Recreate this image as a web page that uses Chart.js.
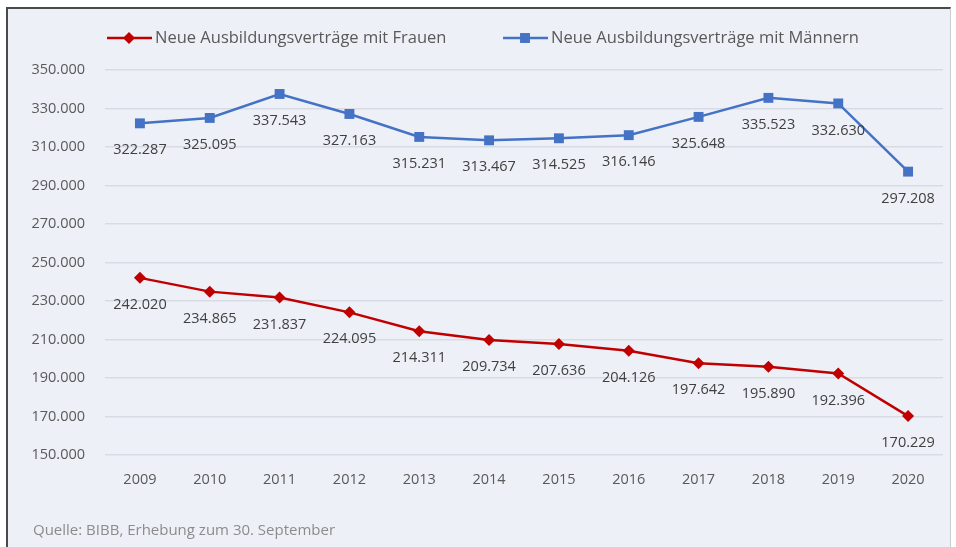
<!DOCTYPE html>
<html lang="de">
<head>
<meta charset="utf-8">
<title>Neue Ausbildungsverträge</title>
<script src="https://cdn.jsdelivr.net/npm/chart.js@4.4.1/dist/chart.umd.min.js"></script>
<style>
  html, body { margin: 0; padding: 0; background: #fff; }
  .panel {
    position: absolute; left: 6px; top: 7px; width: 942px; height: 545px;
    background: #edf0f7;
    border-top: 2px solid #4a4a4a; border-left: 2px solid #4a4a4a; border-right: 1px solid #c9ccd3;
  }
  #chart { position: absolute; left: 0; top: 0; }
  .source {
    position: absolute; left: 33px; top: 519px;
    font: 15px "Open Sans", sans-serif; color: #8c8c8c;
  }
</style>
</head>
<body>
<div class="panel"></div>
<canvas id="chart" width="956" height="547"></canvas>
<div class="source">Quelle: BIBB, Erhebung zum 30. September</div>
<script>
const years = ["2009", "2010", "2011", "2012", "2013", "2014", "2015", "2016", "2017", "2018", "2019", "2020"];
const frauen = [242020, 234865, 231837, 224095, 214311, 209734, 207636, 204126, 197642, 195890, 192396, 170229];
const maenner = [322287, 325095, 337543, 327163, 315231, 313467, 314525, 316146, 325648, 335523, 332630, 297208];
const yMin = 150000;
const yMax = 350000;
const yStep = 20000;

const font = '"Open Sans", sans-serif';

// 350000 -> "350.000"
const fmt = v => String(v).replace(/\B(?=(\d{3})+(?!\d))/g, ".");

function marker(ctx, style, x, y, r) {
  ctx.beginPath();
  if (style === "rectRot") {
    ctx.moveTo(x, y - r); ctx.lineTo(x + r, y); ctx.lineTo(x, y + r); ctx.lineTo(x - r, y);
  } else {
    const s = r * Math.SQRT1_2;
    ctx.rect(x - s, y - s, 2 * s, 2 * s);
  }
  ctx.closePath();
  ctx.fill();
}

// values under each point
const valueLabels = {
  id: "valueLabels",
  afterDatasetsDraw(chart) {
    const ctx = chart.ctx;
    ctx.save();
    ctx.font = "14.5px " + font;
    ctx.fillStyle = "#404040";
    ctx.textAlign = "center";
    ctx.textBaseline = "middle";
    chart.data.datasets.forEach((ds, i) => {
      chart.getDatasetMeta(i).data.forEach((pt, j) => {
        ctx.fillText(fmt(ds.data[j]), pt.x, pt.y + 27);
      });
    });
    ctx.restore();
  }
};

// legend: line with marker, then text
const lineLegend = {
  id: "lineLegend",
  afterDraw(chart) {
    const ctx = chart.ctx;
    const starts = [107, 503];
    const y = 38;
    ctx.save();
    ctx.font = "16.5px " + font;
    ctx.textBaseline = "middle";
    chart.data.datasets.forEach((ds, i) => {
      const x = starts[i];
      ctx.strokeStyle = ds.borderColor;
      ctx.fillStyle = ds.borderColor;
      ctx.lineWidth = 2.5;
      ctx.beginPath();
      ctx.moveTo(x, y);
      ctx.lineTo(x + 45, y);
      ctx.stroke();
      marker(ctx, ds.pointStyle, x + 22, y, ds.pointRadius);
      ctx.fillStyle = "#595959";
      ctx.fillText(ds.label, x + 48, y);
    });
    ctx.restore();
  }
};

new Chart(document.getElementById("chart"), {
  type: "line",
  data: {
    labels: years,
    datasets: [
      {
        label: "Neue Ausbildungsverträge mit Frauen",
        data: frauen,
        borderColor: "#c00000",
        backgroundColor: "#c00000",
        borderWidth: 2.5,
        pointStyle: "rectRot",
        pointRadius: 6,
        pointBorderWidth: 0,
      },
      {
        label: "Neue Ausbildungsverträge mit Männern",
        data: maenner,
        borderColor: "#4472c4",
        backgroundColor: "#4472c4",
        borderWidth: 2.5,
        pointStyle: "rect",
        pointRadius: 7,
        pointBorderWidth: 0,
      }
    ]
  },
  options: {
    responsive: false,
    devicePixelRatio: 1,
    animation: false,
    layout: { padding: { top: 70, right: 13, left: 0, bottom: 0 } },
    plugins: {
      legend: { display: false },
      tooltip: { enabled: false }
    },
    scales: {
      x: {
        offset: true,
        grid: { display: false },
        border: { display: false },
        ticks: { color: "#595959", font: { family: font, size: 14.5 }, padding: 8 },
        afterFit: s => { s.height = 92; }
      },
      y: {
        min: yMin,
        max: yMax,
        grid: { color: "#d8dbe3", lineWidth: 1.5, drawTicks: false },
        border: { display: false },
        ticks: {
          stepSize: yStep,
          color: "#595959",
          font: { family: font, size: 14.5 },
          padding: 20,
          callback: v => fmt(v)
        },
        afterFit: s => { s.width = 105; }
      }
    }
  },
  plugins: [valueLabels, lineLegend]
});
</script>
</body>
</html>
